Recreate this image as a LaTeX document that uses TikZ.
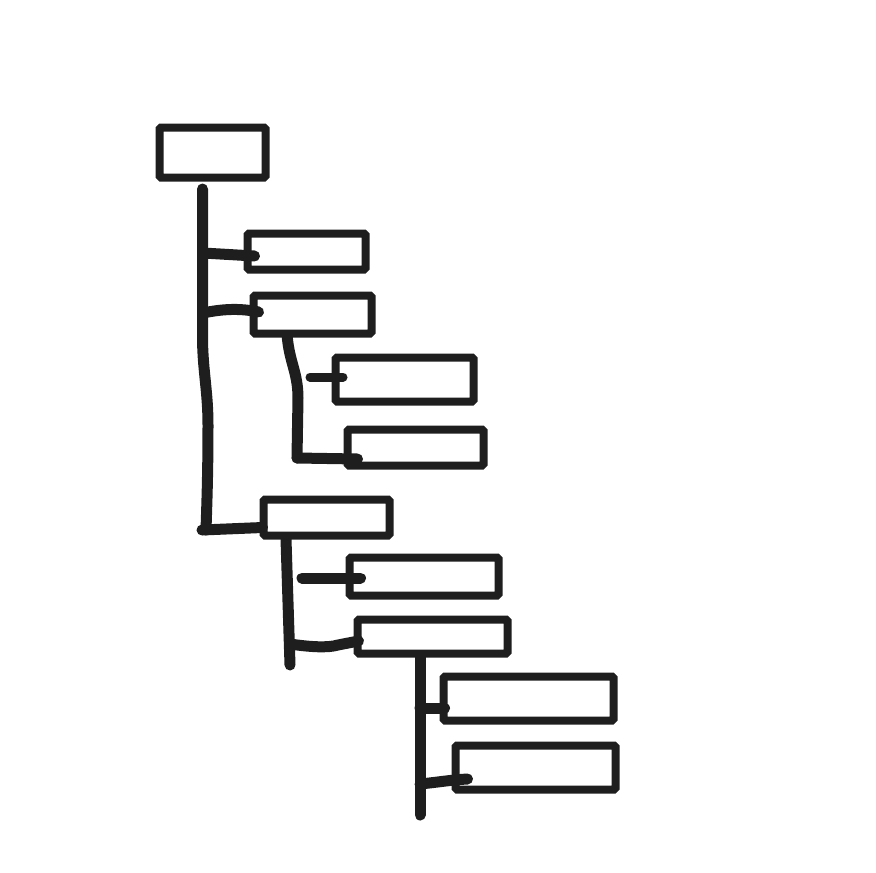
\documentclass[tikz,border=0pt]{standalone}
\begin{document}
\begin{tikzpicture}[x=1pt,y=-1pt,
  ink/.style={color={rgb,255:red,30;green,30;blue,30}},
  box/.style={draw, ink, line width=8pt, rectangle, inner sep=0pt, outer sep=0pt, rounded corners=1.5pt, fill=white},
  link/.style={draw, ink, line width=11pt, line cap=round, line join=round},
  thin link/.style={draw, ink, line width=9pt, line cap=round, line join=round}]
\useasboundingbox (0,0) rectangle (876,873);
% trunk lines (drawn first, boxes on top)
\coordinate (r1) at (202.5,189);
\coordinate (r2) at (206,530);
\coordinate (b1) at (287,334);
\coordinate (b2) at (297,458);
\coordinate (e1) at (286,539);
\coordinate (e2) at (290,665);
\coordinate (g1) at (420,655);
\coordinate (g2) at (420,815);
\draw[link] (r1) -- (202.5,340) .. controls (203,372) and (208,392) .. (208,425) .. controls (208,470) and (207,500) .. (r2);
\draw[link] (b1) .. controls (289,362) and (298,372) .. (298,398) -- (b2);
\draw[link] (e1) -- (e2);
\draw[link] (g1) -- (g2);
% boxes
\node[box, minimum width=106pt, minimum height=50pt] (root) at (212.5,152.5) {};
\node[box, minimum width=118pt, minimum height=36pt] (A) at (306.5,251.5) {};
\node[box, minimum width=118pt, minimum height=38pt] (B) at (312.5,314.5) {};
\node[box, minimum width=138pt, minimum height=44pt] (C) at (404.5,379.5) {};
\node[box, minimum width=136pt, minimum height=36pt] (D) at (415.5,447.5) {};
\node[box, minimum width=126pt, minimum height=36pt] (E) at (326.5,517.5) {};
\node[box, minimum width=149pt, minimum height=38pt] (F) at (424,576.5) {};
\node[box, minimum width=150pt, minimum height=34pt] (G) at (432.5,636.5) {};
\node[box, minimum width=170pt, minimum height=44pt] (H) at (528.5,698.5) {};
\node[box, minimum width=160pt, minimum height=44pt] (I) at (535.5,767.5) {};
% connectors
\draw[link] (203,253) -- ([shift={(7,4.5)}]A.west);
\draw[link] (203,313) .. controls (222,309) and (240,308) .. ([shift={(5,-2.5)}]B.west);
\draw[link] (202,530) -- ([shift={(-1,10)}]E.west);
\draw[thin link] (310,377) -- ([shift={(7.5,-2.5)}]C.west);
\draw[link] (b2) -- ([shift={(10,11.5)}]D.west);
\draw[link] (302,578) -- ([shift={(11,1.5)}]F.west);
\draw[link] (e2 |- 0,644) .. controls (310,647) and (328,648) .. (338,645) -- ([shift={(1,4.5)}]G.west);
\draw[link] (g1 |- 0,708) -- ([shift={(1,9.5)}]H.west);
\draw[link] (g1 |- 0,784) .. controls (440,782) and (450,780) .. ([shift={(12,11.5)}]I.west);
\end{tikzpicture}
\end{document}
